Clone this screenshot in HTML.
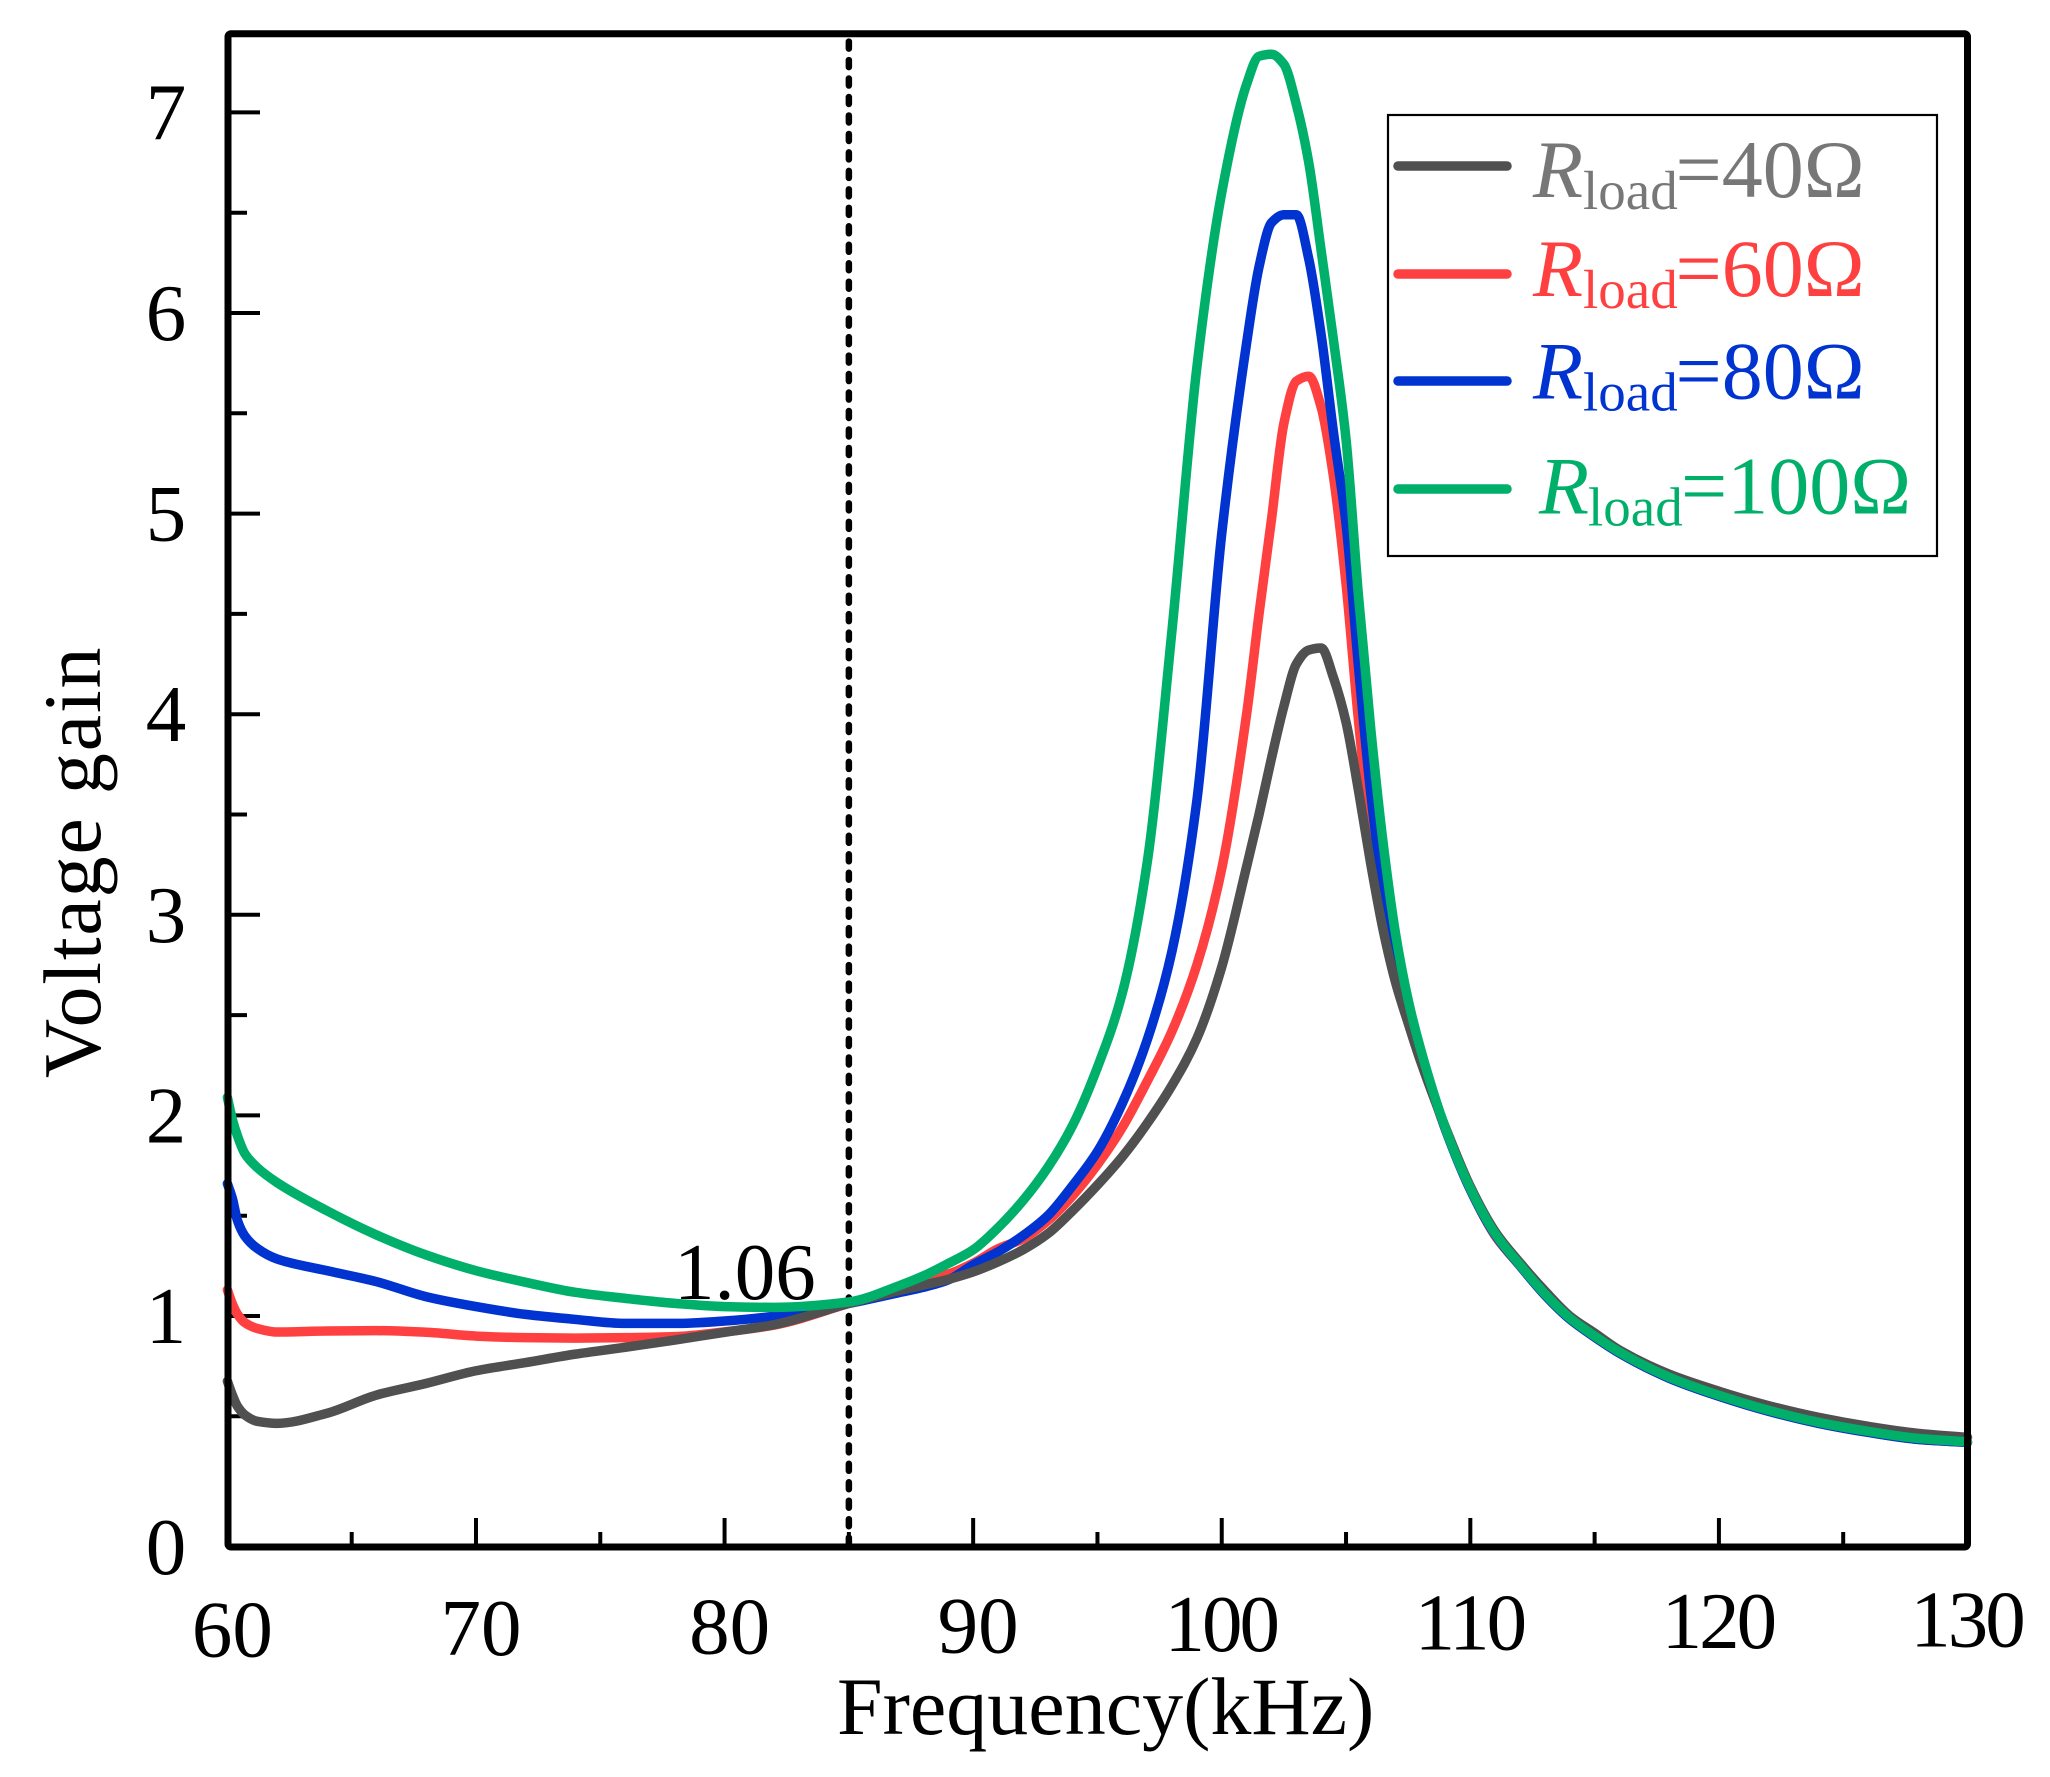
<!DOCTYPE html>
<html lang="en">
<head>
<meta charset="utf-8">
<title>Voltage gain vs frequency</title>
<style>
html,body{margin:0;padding:0;background:#fff;}
svg{display:block;}
text{font-family:"Liberation Serif",serif;}
</style>
</head>
<body>
<svg id="chart" xmlns="http://www.w3.org/2000/svg" width="2050" height="1777" viewBox="0 0 2050 1777">
  <rect x="0" y="0" width="2050" height="1777" fill="#fff"/>
  <g id="ticks"></g>
  <g id="tick-labels" font-size="81" fill="#000"></g>
  <g id="marker"></g>
  <g id="series"></g>
  <rect x="228" y="33.7" width="1739.5" height="1513.3" rx="3" fill="none" stroke="#000" stroke-width="7"/>
  <text x="674" y="1299" font-size="81" fill="#000">1.06</text>
  <text x="837" y="1734" font-size="82" fill="#000">Frequency(kHz)</text>
  <text transform="translate(100,1078) rotate(-90)" font-size="82" letter-spacing="1.8" fill="#000">Voltage gain</text>

  <g>
    <rect x="1388" y="115" width="549" height="441" fill="#fff" stroke="#000" stroke-width="2.2"/>

    <g fill="#777777">
      <line x1="1398" y1="166" x2="1507" y2="166" stroke="#505050" stroke-width="9.5" stroke-linecap="round"/>
      <text x="1533" y="197" font-size="82" font-style="italic">R</text>
      <text x="1583" y="209" font-size="55">load</text>
      <text x="1675.5" y="197" font-size="82">=40Ω</text>
    </g>
    <g fill="#ff4040">
      <line x1="1398" y1="274" x2="1507" y2="274" stroke="#ff4040" stroke-width="9.5" stroke-linecap="round"/>
      <text x="1533" y="296" font-size="82" font-style="italic">R</text>
      <text x="1583" y="308" font-size="55">load</text>
      <text x="1675.5" y="296" font-size="82">=60Ω</text>
    </g>
    <g fill="#0033cf">
      <line x1="1398" y1="381" x2="1507" y2="381" stroke="#0033cf" stroke-width="9.5" stroke-linecap="round"/>
      <text x="1533" y="398.5" font-size="82" font-style="italic">R</text>
      <text x="1583" y="410.5" font-size="55">load</text>
      <text x="1675.5" y="398.5" font-size="82">=80Ω</text>
    </g>
    <g fill="#00b06a">
      <line x1="1398" y1="489" x2="1507" y2="489" stroke="#00b06a" stroke-width="9.5" stroke-linecap="round"/>
      <text x="1539" y="513.5" font-size="82" font-style="italic">R</text>
      <text x="1588" y="525.5" font-size="55">load</text>
      <text x="1681" y="513.5" font-size="82">=100Ω</text>
    </g>
  </g>
</svg>

<script>
var frequencies = [60,60.2,60.4,60.7,61.2,62,64,66,68,70,72,74,76,78,80,82,85,87,88,89,90,91,92,93,94,95,96,97,98,99,100,101,101.5,102,102.5,103,103.5,104,104.5,105,105.5,106,106.5,107,107.5,108,109,110,111,112,113,114,115,116,118,120,122,124,126,128,130];
var gain40 = [.675,.606,.551,.507,.475,.465,.515,.606,.664,.727,.768,.81,.844,.88,.919,.957,1.063,1.126,1.154,1.183,1.22,1.27,1.33,1.41,1.525,1.653,1.794,1.96,2.15,2.384,2.74,3.24,3.5,3.78,4.04,4.25,4.32,4.33,4.18,3.96,3.62,3.25,2.92,2.66,2.46,2.27,1.94,1.645,1.42,1.265,1.125,1.0,.915,.83,.71,.625,.553,.495,.45,.415,.395];
var gain60 = [1.13,1.06,1.01,.967,.938,.92,.925,.927,.919,.90,.892,.89,.892,.897,.921,.955,1.063,1.138,1.18,1.209,1.263,1.335,1.385,1.475,1.60,1.755,1.94,2.17,2.42,2.75,3.23,4.0,4.5,4.97,5.45,5.66,5.685,5.53,5.18,4.65,3.97,3.41,3.08,2.75,2.48,2.29,1.93,1.63,1.40,1.25,1.105,.985,.895,.815,.69,.60,.525,.465,.42,.385,.37];
var gain80 = [1.66,1.586,1.478,1.399,1.337,1.284,1.226,1.171,1.096,1.047,1.008,.983,.963,.963,.975,.999,1.063,1.116,1.143,1.18,1.255,1.32,1.40,1.5,1.65,1.82,2.06,2.376,2.82,3.57,4.9,5.85,6.23,6.45,6.49,6.49,6.27,5.89,5.40,4.95,4.24,3.6,3.12,2.76,2.5,2.31,1.93,1.63,1.405,1.25,1.105,.985,.895,.815,.69,.60,.525,.465,.42,.385,.37];
var gain100 = [2.09,1.98,1.90,1.81,1.74,1.665,1.525,1.404,1.304,1.226,1.168,1.118,1.088,1.063,1.047,1.043,1.07,1.15,1.2,1.262,1.33,1.44,1.575,1.74,1.95,2.24,2.61,3.26,4.42,5.73,6.6,7.14,7.28,7.29,7.24,7.04,6.75,6.31,5.86,5.37,4.59,3.92,3.35,2.9,2.575,2.33,1.935,1.636,1.41,1.254,1.11,.99,.9,.82,.695,.605,.53,.47,.425,.39,.373];
var xMajorTicks = [60,70,80,90,100,110,120,130];
var xMinorTicks = [65,75,85,95,105,115,125];
var yMajorTicks = [1,2,3,4,5,6,7];
var yMinorTicks = [0.5,1.5,2.5,3.5,4.5,5.5,6.5];
var xTickLabels = ['60','70','80','90','100','110','120','130'];
var yTickLabels = ['1','2','3','4','5','6','7'];
var bottomLabel = '0';
var markerFrequency = 85;

var SVGNS = 'http://www.w3.org/2000/svg';
var X_LEFT = 227.4, X_RIGHT = 1967.5, X_MIN = 60, X_MAX = 130;
var Y_BOTTOM = 1547, Y_MIN = -0.1515, Y_SCALE = 200.6;

function xAxis(f) { return X_LEFT + (f - X_MIN) * (X_RIGHT - X_LEFT) / (X_MAX - X_MIN); }
function yAxis(v) { return Y_BOTTOM - (v - Y_MIN) * Y_SCALE; }

function make(tag, parentId) {
  var el = document.createElementNS(SVGNS, tag);
  document.getElementById(parentId).appendChild(el);
  return el;
}
function setLine(el, x1, y1, x2, y2, w) {
  el.setAttribute('x1', x1);
  el.setAttribute('y1', y1);
  el.setAttribute('x2', x2);
  el.setAttribute('y2', y2);
  el.setAttribute('stroke', '#000');
  el.setAttribute('stroke-width', w);
}

xMajorTicks.forEach(function (f, i) {
  var t = make('line', 'ticks');
  
  
  setLine(t, xAxis(f), Y_BOTTOM, xAxis(f), Y_BOTTOM - 29, 4);
  var l = make('text', 'tick-labels');
  
  
  var wide = xTickLabels[i].length === 3;
  l.setAttribute('x', xAxis(f) + (wide ? -1 : 5));
  l.setAttribute('y', 1656.5 - (f - X_MIN) * 0.14);
  l.setAttribute('text-anchor', 'middle');
  l.setAttribute('letter-spacing', wide ? '-3' : '0');
  l.textContent = xTickLabels[i];
});
xMinorTicks.forEach(function (f) {
  var t = make('line', 'ticks');
  
  
  setLine(t, xAxis(f), Y_BOTTOM, xAxis(f), Y_BOTTOM - 15, 4);
});
yMajorTicks.forEach(function (v, i) {
  var t = make('line', 'ticks');
  
  
  setLine(t, X_LEFT, yAxis(v), 260, yAxis(v), 4);
  var l = make('text', 'tick-labels');
  
  
  l.setAttribute('x', 166);
  l.setAttribute('y', yAxis(v) + 27);
  l.setAttribute('text-anchor', 'middle');
  l.textContent = yTickLabels[i];
});
yMinorTicks.forEach(function (v) {
  var t = make('line', 'ticks');
  
  
  setLine(t, X_LEFT, yAxis(v), 247, yAxis(v), 4);
});
var zero = make('text', 'tick-labels');


zero.setAttribute('x', 166);
zero.setAttribute('y', 1574);
zero.setAttribute('text-anchor', 'middle');
zero.textContent = bottomLabel;

var markerLine = make('line', 'marker');


setLine(markerLine, xAxis(markerFrequency), 41.6, xAxis(markerFrequency), 1545, 6.5);
markerLine.setAttribute('stroke-dasharray', '7 11.47');
markerLine.setAttribute('stroke-linecap', 'round');

/* monotone cubic path through the data points, so peaks stay at the read values */
function curvePath(values) {
  var xs = frequencies.map(xAxis);
  var ys = values.map(yAxis);
  var n = xs.length, i;
  var slopes = [], tang = [];
  for (i = 0; i < n - 1; i++) slopes.push((ys[i + 1] - ys[i]) / (xs[i + 1] - xs[i]));
  tang[0] = slopes[0];
  tang[n - 1] = slopes[n - 2];
  for (i = 1; i < n - 1; i++) {
    if (slopes[i - 1] * slopes[i] <= 0) { tang[i] = 0; continue; }
    var h0 = xs[i] - xs[i - 1], h1 = xs[i + 1] - xs[i];
    var w1 = 2 * h1 + h0, w2 = h1 + 2 * h0;
    tang[i] = (w1 + w2) / (w1 / slopes[i - 1] + w2 / slopes[i]);
  }
  var d = 'M' + xs[0].toFixed(2) + ' ' + ys[0].toFixed(2);
  for (i = 0; i < n - 1; i++) {
    var h = (xs[i + 1] - xs[i]) / 3;
    d += ' C' + (xs[i] + h).toFixed(2) + ' ' + (ys[i] + tang[i] * h).toFixed(2) +
         ' ' + (xs[i + 1] - h).toFixed(2) + ' ' + (ys[i + 1] - tang[i + 1] * h).toFixed(2) +
         ' ' + xs[i + 1].toFixed(2) + ' ' + ys[i + 1].toFixed(2);
  }
  return d;
}
function drawSeries(values, colour, name) {
  var p = make('path', 'series');
  
  
  p.setAttribute('d', curvePath(values));
  p.setAttribute('fill', 'none');
  p.setAttribute('stroke', colour);
  p.setAttribute('stroke-width', '9.5');
  p.setAttribute('stroke-linejoin', 'round');
  p.setAttribute('stroke-linecap', 'round');
}
drawSeries(gain60, '#ff4040', 'series-60-ohm');
drawSeries(gain80, '#0033cf', 'series-80-ohm');
drawSeries(gain40, '#505050', 'series-40-ohm');
drawSeries(gain100, '#00b06a', 'series-100-ohm');
</script>
</body>
</html>
